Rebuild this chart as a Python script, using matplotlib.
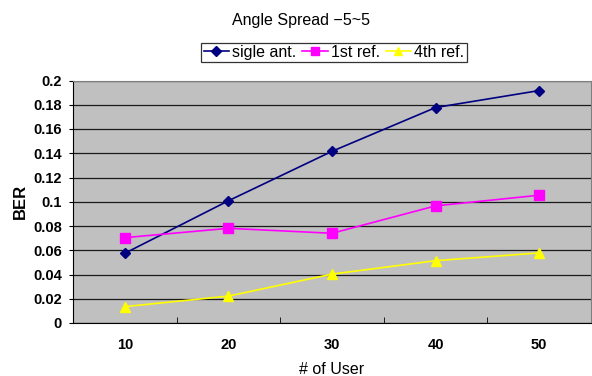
import matplotlib.pyplot as plt
import numpy as np

plt.rcParams['font.family'] = ['Liberation Sans', 'DejaVu Sans']

users = ['10', '20', '30', '40', '50']
single_ant = [0.0575, 0.1008, 0.1416, 0.1777, 0.1917]
first_ref = [0.0704, 0.0781, 0.0740, 0.0966, 0.1054]
fourth_ref = [0.0135, 0.0222, 0.0403, 0.0514, 0.0578]
yticks = np.arange(0, 0.2001, 0.02)
ytick_labels = ['0', '0.02', '0.04', '0.06', '0.08', '0.1', '0.12', '0.14', '0.16', '0.18', '0.2']

fig = plt.figure(figsize=(5.92, 3.76), dpi=100)
ax = fig.add_axes([73 / 592, 1 - 323 / 376, 518 / 592, 242.5 / 376])
ax.set_facecolor('#C0C0C0')

x = np.arange(len(users))
ax.plot(x, single_ant, color='#000080', lw=1.2, marker='D', ms=5.5, label='sigle ant.')
ax.plot(x, first_ref, color='#FF00FF', lw=1.2, marker='s', ms=7, label='1st ref.')
ax.plot(x, fourth_ref, color='#FFFF00', lw=1.2, marker='^', ms=7.5, label='4th ref.')

ax.set_xlim(-0.5, len(users) - 0.5)
ax.set_ylim(0, 0.2)
ax.set_yticks(yticks)
ax.set_yticklabels(ytick_labels)
ax.yaxis.grid(True, color='#1a1a1a', lw=0.9)
ax.set_axisbelow(True)

# category labels sit between the boundary tick marks
ax.set_xticks(x)
ax.set_xticklabels(users)
ax.tick_params(axis='x', length=0, pad=11)
ax.set_xticks(np.arange(-0.5, len(users)), minor=True)
ax.tick_params(axis='x', which='minor', length=4, direction='in', color='black')
ax.tick_params(axis='y', length=3, direction='out', pad=5)
for lab in ax.get_xticklabels() + ax.get_yticklabels():
    lab.set_fontweight('bold')
    lab.set_fontsize(10.5)

for side in ['top', 'right']:
    ax.spines[side].set_color('#808080')
for side in ['left', 'bottom']:
    ax.spines[side].set_color('black')

ax.set_ylabel('BER', fontsize=12, fontweight='bold', labelpad=4)
ax.set_xlabel('# of User', fontsize=11.5, labelpad=7)
fig.text(301 / 592, 1 - 20 / 376, 'Angle Spread \u22125~5', ha='center', va='center', fontsize=11.5)

leg = ax.legend(loc='center', bbox_to_anchor=(334 / 592, 1 - 52.5 / 376), bbox_transform=fig.transFigure,
                ncol=3, frameon=True, fancybox=False, fontsize=11.5, handlelength=1.6,
                columnspacing=0.35, handletextpad=0.2, borderpad=0.15, borderaxespad=0,
                markerscale=0.85)
leg.get_frame().set_edgecolor('black')
leg.get_frame().set_linewidth(0.9)

fig.savefig('out.png', dpi=100)
